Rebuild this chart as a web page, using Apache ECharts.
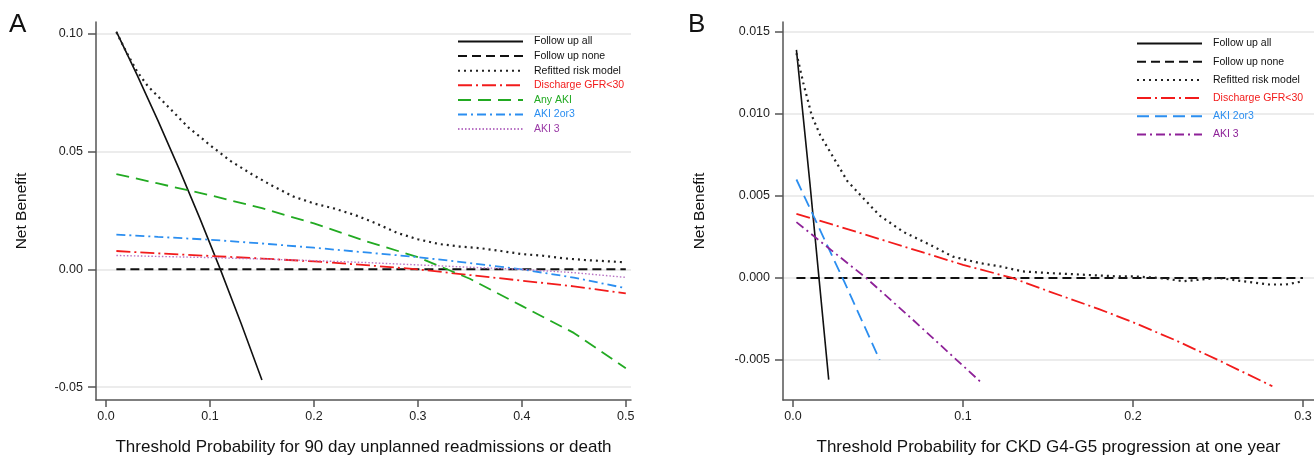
<!DOCTYPE html>
<html><head><meta charset="utf-8">
<script src="https://cdn.jsdelivr.net/npm/echarts@6/dist/echarts.min.js"></script>
<style>html,body{margin:0;padding:0;background:#fff}#c{width:1314px;height:458px}</style>
</head><body><div id="c"></div>
<script>
// ---- tick values ----
const aTicksX = [0, 0.1, 0.2, 0.3, 0.4, 0.5];
const aTicksY = [-0.05, 0, 0.05, 0.10];
const bTicksX = [0, 0.1, 0.2, 0.3];
const bTicksY = [-0.005, 0, 0.005, 0.010, 0.015];

// ---- Panel A data: [threshold, net benefit] ----
const aFollowAll = [[0.01,0.101],[0.03,0.0825],[0.05,0.0632],[0.07,0.043],[0.09,0.022],[0.11,0.0],[0.13,-0.023],[0.15,-0.047]];
const aFollowNone = [[0.01,0],[0.5,0]];
const aRefitted = [[0.01,0.1008],[0.02,0.092],[0.03,0.084],[0.04,0.078],[0.05,0.0735],[0.06,0.069],[0.07,0.0645],[0.08,0.060],[0.09,0.0565],[0.10,0.0528],[0.12,0.046],[0.14,0.0405],[0.16,0.0355],[0.18,0.031],[0.20,0.028],[0.22,0.0258],[0.24,0.023],[0.26,0.0195],[0.28,0.0155],[0.30,0.0128],[0.32,0.0108],[0.34,0.0097],[0.36,0.009],[0.38,0.0078],[0.40,0.0065],[0.42,0.0058],[0.44,0.0047],[0.46,0.0040],[0.48,0.0035],[0.50,0.003]];
const aDischarge = [[0.01,0.0078],[0.05,0.0068],[0.10,0.0057],[0.15,0.0046],[0.20,0.0034],[0.25,0.0018],[0.30,0.0],[0.35,-0.0024],[0.40,-0.0048],[0.45,-0.0072],[0.50,-0.0102]];
const aAnyAKI = [[0.01,0.0405],[0.05,0.0365],[0.10,0.0315],[0.15,0.026],[0.20,0.0195],[0.25,0.012],[0.30,0.0052],[0.35,-0.004],[0.40,-0.0155],[0.45,-0.027],[0.50,-0.042]];
const aAKI23 = [[0.01,0.0148],[0.05,0.0138],[0.10,0.0126],[0.15,0.011],[0.20,0.0092],[0.25,0.0072],[0.30,0.0052],[0.35,0.0027],[0.40,0.0],[0.45,-0.0035],[0.50,-0.008]];
const aAKI3 = [[0.01,0.0059],[0.05,0.0055],[0.10,0.005],[0.15,0.0044],[0.20,0.0037],[0.25,0.0029],[0.30,0.0019],[0.35,0.0009],[0.40,0.0],[0.45,-0.0014],[0.50,-0.0034]];

// ---- Panel B data ----
const bFollowAll = [[0.002,0.0139],[0.01,0.0057],[0.021,-0.0062]];
const bFollowNone = [[0.002,0],[0.30,0]];
const bRefitted = [[0.002,0.0137],[0.006,0.0119],[0.011,0.0099],[0.016,0.0087],[0.024,0.0073],[0.032,0.0059],[0.041,0.0049],[0.051,0.0038],[0.065,0.0028],[0.081,0.002],[0.094,0.0013],[0.11,0.0009],[0.122,0.0007],[0.135,0.0004],[0.15,0.0003],[0.17,0.0002],[0.19,0.0001],[0.20,0.0001],[0.215,0.0],[0.23,-0.0002],[0.25,0.0],[0.265,-0.0002],[0.28,-0.0004],[0.29,-0.0004],[0.30,-0.0002]];
const bDischarge = [[0.002,0.0039],[0.025,0.0032],[0.05,0.0024],[0.075,0.0016],[0.10,0.0008],[0.129,0.0],[0.15,-0.0008],[0.18,-0.0019],[0.20,-0.0027],[0.225,-0.0038],[0.25,-0.0050],[0.282,-0.0066]];
const bAKI23 = [[0.002,0.006],[0.03,-0.0002],[0.051,-0.005]];
const bAKI3 = [[0.002,0.0034],[0.02,0.0019],[0.043,0.0],[0.07,-0.0025],[0.111,-0.0064]];

// ---- names ----
const aNames = ['Follow up all','Follow up none','Refitted risk model','Discharge GFR<30','Any AKI','AKI 2or3','AKI 3'];
const bNames = ['Follow up all','Follow up none','Refitted risk model','Discharge GFR<30','AKI 2or3','AKI 3'];

const FONT = 'Liberation Sans, Arial, Helvetica, sans-serif';
const RED = '#f21b1b', GREEN = '#22aa22', BLUE = '#2b8ef0', PINK = '#b873c4', PURPLE = '#8e2198';

function mk(prefix, name, data, idx, color, width, type) {
  return {
    name: prefix + name, type: 'line', xAxisIndex: idx, yAxisIndex: idx,
    data: data, symbol: 'none', showSymbol: false, silent: true, animation: false,
    lineStyle: { color: color, width: width, type: type, cap: 'butt' },
    itemStyle: { color: color }, z: 3
  };
}

const series = [
  mk('A|', aNames[0], aFollowAll, 0, '#111', 1.6, 'solid'),
  mk('A|', aNames[1], aFollowNone, 0, '#111', 2, [9,5]),
  mk('A|', aNames[2], aRefitted, 0, '#222', 2.2, [2,4]),
  mk('A|', aNames[3], aDischarge, 0, RED, 1.8, [14,4,2,4]),
  mk('A|', aNames[4], aAnyAKI, 0, GREEN, 1.8, [13,7]),
  mk('A|', aNames[5], aAKI23, 0, BLUE, 1.8, [9,4,2,4]),
  mk('A|', aNames[6], aAKI3, 0, PINK, 1.4, [1.5,2]),
  mk('B|', bNames[0], bFollowAll, 1, '#111', 1.6, 'solid'),
  mk('B|', bNames[1], bFollowNone, 1, '#111', 2, [9,5]),
  mk('B|', bNames[2], bRefitted, 1, '#222', 2.2, [2,4]),
  mk('B|', bNames[3], bDischarge, 1, RED, 1.8, [14,4,2,4]),
  mk('B|', bNames[4], bAKI23, 1, BLUE, 1.8, [12,6]),
  mk('B|', bNames[5], bAKI3, 1, PURPLE, 1.8, [9,4,2,4])
];

const aColors = ['#111','#111','#111',RED,GREEN,BLUE,'#9a3aa6'];
const bColors = ['#111','#111','#111',RED,BLUE,PURPLE];

function legend(prefix, names, colors, left, top, gap) {
  return {
    orient: 'vertical', left: left, top: top, itemWidth: 65, itemHeight: 10, itemGap: gap,
    selectedMode: false, padding: 0,
    itemStyle: { opacity: 0, borderWidth: 0 },
    formatter: n => n.slice(2),
    textStyle: { fontFamily: FONT, fontSize: 10.5, lineHeight: 10, padding: [0,0,0,6] },
    data: names.map((n, i) => ({ name: prefix + n, textStyle: { color: colors[i] } }))
  };
}

function xAxis(idx, min, max, ticks, title) {
  return {
    type: 'value', gridIndex: idx, min: min, max: max,
    name: title, nameLocation: 'middle', nameGap: 39,
    nameTextStyle: { fontFamily: FONT, fontSize: 17, color: '#111' },
    axisLine: { onZero: false, lineStyle: { color: '#555', width: 1.5 } },
    axisTick: { show: true, length: 7, customValues: ticks, lineStyle: { color: '#555', width: 1.5 } },
    axisLabel: { customValues: ticks, margin: 10, fontFamily: FONT, fontSize: 12.5, color: '#222',
      formatter: v => v.toFixed(1) },
    splitLine: { show: false }
  };
}
function yAxis(idx, min, max, ticks, dec, gap) {
  return {
    type: 'value', gridIndex: idx, min: min, max: max,
    name: 'Net Benefit', nameLocation: 'middle', nameGap: gap, nameRotate: 90,
    nameTextStyle: { fontFamily: FONT, fontSize: 15.5, color: '#111' },
    axisLine: { onZero: false, lineStyle: { color: '#555', width: 1.5 } },
    axisTick: { show: true, length: 8, customValues: ticks, lineStyle: { color: '#555', width: 1.5 } },
    axisLabel: { customValues: ticks, margin: 13, fontFamily: FONT, fontSize: 12.5, color: '#222',
      formatter: v => v.toFixed(dec) },
    splitLine: { show: true, lineStyle: { color: '#e6e6e6', width: 1.5 } }
  };
}

const option = {
  backgroundColor: '#fff',
  animation: false,
  title: [
    { text: 'A', left: 9, top: 12, padding: 0, textStyle: { fontFamily: FONT, fontSize: 26, fontWeight: 'normal', color: '#111' } },
    { text: 'B', left: 688, top: 12, padding: 0, textStyle: { fontFamily: FONT, fontSize: 26, fontWeight: 'normal', color: '#111' } }
  ],
  legend: [
    legend('A|', aNames, aColors, 457, 36, 3.6),
    legend('B|', bNames, bColors, 1136, 38, 7.2)
  ],
  grid: [
    { left: 96, top: 22, width: 535, height: 378, outerBoundsMode: 'none', containLabel: false },
    { left: 783, top: 22, width: 531, height: 378, outerBoundsMode: 'none', containLabel: false }
  ],
  xAxis: [
    xAxis(0, -0.0096, 0.505, aTicksX, 'Threshold Probability for 90 day unplanned readmissions or death'),
    xAxis(1, -0.0059, 0.3065, bTicksX, 'Threshold Probability for CKD G4-G5 progression at one year')
  ],
  yAxis: [
    yAxis(0, -0.0555, 0.1051, aTicksY, 2, 66),
    yAxis(1, -0.00744, 0.0156, bTicksY, 3, 75)
  ],
  series: series
};

const chart = echarts.init(document.getElementById('c'), null, { renderer: 'canvas' });
chart.setOption(option);
</script>
</body></html>
